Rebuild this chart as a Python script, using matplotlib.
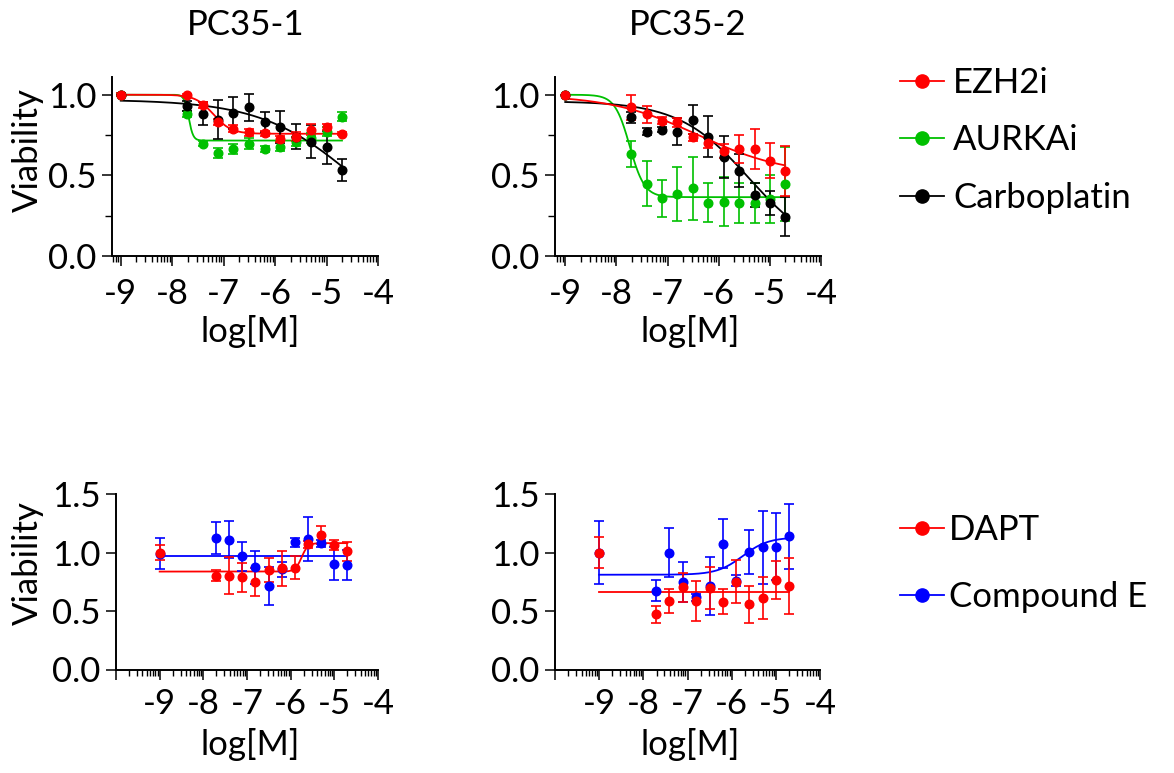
import numpy as np
import matplotlib
matplotlib.use("Agg")
import matplotlib.pyplot as plt
from matplotlib.lines import Line2D

plt.rcParams['font.family'] = ['Lato', 'DejaVu Sans']

W, H = 1174, 773

# log[M] of each dose (vehicle plotted at -9)
conc = [-9.0, -7.71, -7.41, -7.11, -6.81, -6.5, -6.2, -5.9, -5.6, -5.3, -5.0, -4.7]

# PC35-1, top row
ezh2i_1 = [1.0, 0.996, 0.938, 0.83, 0.79, 0.766, 0.762, 0.727, 0.741, 0.783, 0.80, 0.758]
ezh2i_1_err = [0.01, 0.01, 0.02, 0.02, 0.02, 0.02, 0.015, 0.02, 0.03, 0.035, 0.02, 0.01]
aurka_1 = [1.0, 0.882, 0.696, 0.638, 0.665, 0.696, 0.665, 0.679, 0.71, 0.73, 0.772, 0.865]
aurka_1_err = [0.01, 0.02, 0.015, 0.03, 0.03, 0.035, 0.02, 0.03, 0.03, 0.03, 0.03, 0.03]
carbo_1 = [1.0, 0.932, 0.882, 0.845, 0.886, 0.921, 0.83, 0.80, 0.741, 0.71, 0.673, 0.534]
carbo_1_err = [0.0, 0.03, 0.07, 0.12, 0.1, 0.085, 0.06, 0.1, 0.08, 0.1, 0.1, 0.07]

# PC35-2, top row
ezh2i_2 = [1.0, 0.923, 0.88, 0.839, 0.828, 0.735, 0.70, 0.652, 0.665, 0.662, 0.592, 0.53]
ezh2i_2_err = [0.0, 0.077, 0.053, 0.02, 0.025, 0.02, 0.03, 0.045, 0.088, 0.125, 0.11, 0.155]
aurka_2 = [1.0, 0.634, 0.447, 0.358, 0.385, 0.42, 0.331, 0.337, 0.327, 0.327, 0.352, 0.445]
aurka_2_err = [0.0, 0.08, 0.14, 0.115, 0.165, 0.195, 0.12, 0.15, 0.125, 0.125, 0.15, 0.23]
carbo_2 = [1.0, 0.861, 0.772, 0.783, 0.772, 0.845, 0.741, 0.613, 0.53, 0.379, 0.327, 0.244]
carbo_2_err = [0.0, 0.035, 0.02, 0.015, 0.085, 0.09, 0.13, 0.13, 0.1, 0.075, 0.075, 0.12]

# PC35-1, bottom row
dapt_1 = [1.0, 0.803, 0.803, 0.789, 0.751, 0.851, 0.866, 0.871, 1.071, 1.151, 1.066, 1.009]
dapt_1_err = [0.066, 0.05, 0.16, 0.125, 0.12, 0.1, 0.15, 0.097, 0.03, 0.075, 0.045, 0.085]
compe_1 = [0.99, 1.123, 1.109, 0.966, 0.874, 0.714, 0.857, 1.086, 1.114, 1.08, 0.903, 0.894]
compe_1_err = [0.13, 0.14, 0.16, 0.12, 0.14, 0.165, 0.065, 0.035, 0.19, 0.03, 0.14, 0.13]

# PC35-2, bottom row
dapt_2 = [1.0, 0.471, 0.586, 0.703, 0.586, 0.694, 0.58, 0.751, 0.557, 0.614, 0.766, 0.714]
dapt_2_err = [0.135, 0.075, 0.105, 0.125, 0.17, 0.18, 0.108, 0.185, 0.157, 0.18, 0.16, 0.24]
compe_2 = [1.0, 0.674, 1.0, 0.751, 0.617, 0.714, 1.074, 0.76, 1.003, 1.043, 1.051, 1.137]
compe_2_err = [0.27, 0.09, 0.21, 0.17, 0.03, 0.245, 0.21, 0.05, 0.19, 0.31, 0.29, 0.28]

# fitted curves: (value at low dose, value at high dose, logEC50, hill)
fit_ezh2i_1 = (1.0, 0.758, -7.2, 2.5)
fit_aurka_1 = (1.0, 0.716, -7.68, 10)
fit_carbo_1 = (0.97, 0.0, -4.43, 0.47)
fit_ezh2i_2 = (1.0, 0.5, -6.4, 0.5)
fit_aurka_2 = (1.0, 0.365, -7.74, 3)
fit_carbo_2 = (0.96, 0.0, -5.4, 0.63)
fit_dapt_1 = (0.837, 1.08, -5.75, 6)
fit_compe_1 = (0.974, 0.974, -6.0, 1)
fit_dapt_2 = (0.666, 0.666, -6.0, 1)
fit_compe_2 = (0.81, 1.13, -5.75, 1.5)

RED = '#ff0000'
GREEN = '#00c000'
BLACK = '#000000'
BLUE = '#0000ff'
FS = 25


def curve(p, x):
    a, b, c, h = p
    return a + (b - a) / (1 + 10 ** ((c - x) * h))


def series(ax, y, err, fit, color):
    xx = np.linspace(-9, -4.7, 400)
    ax.plot(xx, curve(fit, xx), color=color, lw=1.3, zorder=2)
    ax.errorbar(conc, y, yerr=err, fmt='o', color=color, ms=6.2, elinewidth=1.2,
                capsize=3.8, capthick=1.2, zorder=3)


def style(ax, xmin, ymax, yticks, yminor, xpad):
    ax.set_xlim(xmin, -4)
    ax.set_ylim(0, ymax)
    for s in ['top', 'right']:
        ax.spines[s].set_visible(False)
    for s in ['left', 'bottom']:
        ax.spines[s].set_linewidth(1.4)
    ax.set_yticks(yticks)
    ax.set_yticklabels(['%.1f' % v for v in yticks])
    ax.set_yticks(yminor, minor=True)
    major = [v for v in range(-10, -3) if v >= xmin - 1e-6]
    ax.set_xticks(major)
    ax.set_xticklabels([str(v) if v > -10 else '' for v in major])
    minor = [d + np.log10(k) for d in range(-10, -4) for k in range(2, 10)]
    ax.set_xticks([m for m in minor if m > xmin], minor=True)
    ax.tick_params(which='major', direction='out', length=7, width=1.1, labelsize=FS)
    ax.tick_params(which='minor', direction='out', length=4, width=1.0)
    ax.tick_params(axis='x', which='major', pad=xpad)
    ax.tick_params(axis='y', which='major', pad=4)
    ax.tick_params(axis='y', which='minor', length=5)


fig = plt.figure(figsize=(W / 100, H / 100), dpi=100)


def add_ax(l, r, t, b):
    return fig.add_axes([l / W, 1 - b / H, (r - l) / W, (b - t) / H])


ax1 = add_ax(112, 378, 77, 256)
ax2 = add_ax(555, 821, 77, 256)
ax3 = add_ax(116, 378, 494, 669.5)
ax4 = add_ax(555, 820, 494, 669.5)

series(ax1, aurka_1, aurka_1_err, fit_aurka_1, GREEN)
series(ax1, carbo_1, carbo_1_err, fit_carbo_1, BLACK)
series(ax1, ezh2i_1, ezh2i_1_err, fit_ezh2i_1, RED)
series(ax2, aurka_2, aurka_2_err, fit_aurka_2, GREEN)
series(ax2, carbo_2, carbo_2_err, fit_carbo_2, BLACK)
series(ax2, ezh2i_2, ezh2i_2_err, fit_ezh2i_2, RED)
series(ax3, compe_1, compe_1_err, fit_compe_1, BLUE)
series(ax3, dapt_1, dapt_1_err, fit_dapt_1, RED)
series(ax4, compe_2, compe_2_err, fit_compe_2, BLUE)
series(ax4, dapt_2, dapt_2_err, fit_dapt_2, RED)

style(ax1, -9.17, 1.11, [0, 0.5, 1.0], [0.25, 0.75], 9)
style(ax2, -9.2, 1.11, [0, 0.5, 1.0], [0.25, 0.75], 9)
style(ax3, -10, 1.5, [0, 0.5, 1.0, 1.5], [], 6)
style(ax4, -10, 1.5, [0, 0.5, 1.0, 1.5], [], 6)


def ftext(x, y, s, **kw):
    fig.text(x / W, 1 - y / H, s, fontsize=FS, **kw)


# titles and axis labels
ftext(246, 35, 'PC35-1', ha='center', va='baseline')
ftext(688, 35, 'PC35-2', ha='center', va='baseline')
for x, y in [(250, 342), (690, 342), (250, 755), (690, 755)]:
    ftext(x, y, 'log[M]', ha='center', va='baseline')
for y in [150, 563]:
    ftext(38, y, 'Viability', ha='center', va='baseline', rotation=90,
          rotation_mode='anchor')

# legends
lax = fig.add_axes([0, 0, 1, 1])
lax.set_xlim(0, W)
lax.set_ylim(H, 0)
lax.axis('off')
legend_rows = [('EZH2i', RED, 81, 953), ('AURKAi', GREEN, 138, 953),
               ('Carboplatin', BLACK, 196, 953), ('DAPT', RED, 528, 949),
               ('Compound E', BLUE, 595, 949)]
for name, color, y, tx in legend_rows:
    lax.add_line(Line2D([900, 944], [y, y], color=color, lw=1.3))
    lax.add_line(Line2D([922], [y], marker='o', ms=9.5, color=color))
    lax.text(tx, y + 12, name, fontsize=FS, va='baseline', ha='left')

fig.savefig('out.png', dpi=100)
